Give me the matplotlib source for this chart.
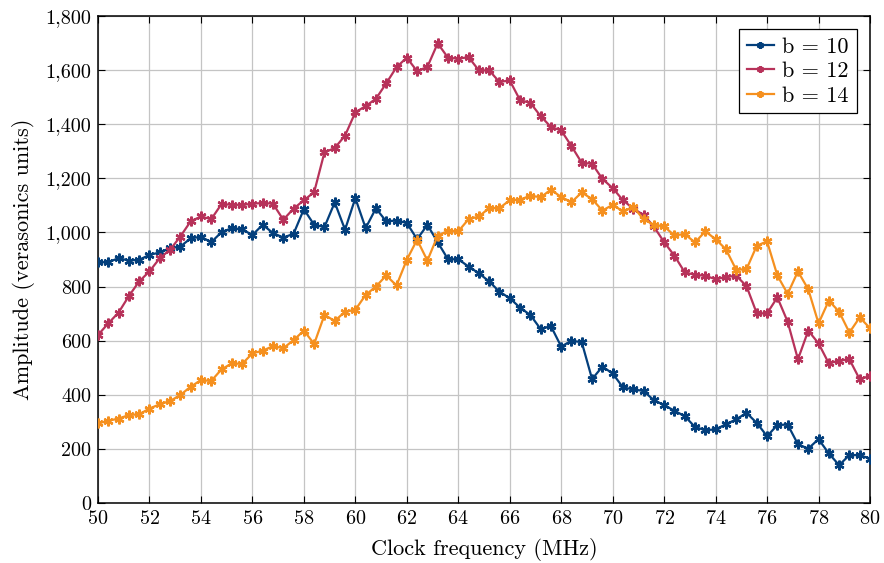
import numpy as np
import matplotlib
matplotlib.use("Agg")
import matplotlib.pyplot as plt
from matplotlib.ticker import FuncFormatter, MultipleLocator

plt.rcParams["font.family"] = ["cmr10", "DejaVu Serif"]
plt.rcParams["mathtext.fontset"] = "cm"
plt.rcParams["axes.formatter.use_mathtext"] = True

# Clock frequency sweep: 50 to 80 MHz in 0.4 MHz steps
freq = np.round(np.arange(50.0, 80.0001, 0.4), 1)

amp_b10 = [890, 890, 905, 896, 899, 917, 926, 942, 948, 978,
           984, 964, 1001, 1016, 1011, 991, 1028, 998, 981, 995,
           1086, 1028, 1020, 1111, 1010, 1127, 1016, 1089, 1041, 1044,
           1035, 975, 1028, 964, 901, 901, 874, 849, 819, 781,
           757, 722, 695, 643, 654, 578, 600, 594, 458, 504,
           479, 427, 420, 414, 380, 362, 341, 321, 281, 269,
           272, 291, 309, 333, 296, 247, 288, 290, 217, 201,
           236, 183, 140, 177, 177, 164]

amp_b12 = [621, 664, 704, 765, 819, 856, 905, 936, 985, 1041,
           1059, 1049, 1105, 1102, 1102, 1106, 1109, 1106, 1047, 1088,
           1119, 1149, 1296, 1312, 1358, 1444, 1467, 1494, 1551, 1611,
           1646, 1596, 1612, 1699, 1646, 1642, 1648, 1599, 1599, 1556,
           1562, 1489, 1479, 1430, 1390, 1377, 1319, 1257, 1254, 1198,
           1164, 1119, 1088, 1065, 1022, 964, 914, 853, 843, 840,
           827, 835, 840, 802, 701, 701, 760, 670, 531, 637,
           590, 516, 526, 531, 457, 470]

amp_b14 = [294, 304, 312, 325, 328, 349, 365, 377, 399, 430,
           454, 451, 494, 516, 514, 553, 563, 580, 572, 602,
           637, 588, 695, 673, 707, 714, 769, 800, 841, 804,
           899, 973, 896, 988, 1006, 1004, 1049, 1059, 1090, 1090,
           1119, 1121, 1136, 1130, 1158, 1131, 1112, 1148, 1123, 1081,
           1102, 1078, 1094, 1049, 1028, 1022, 989, 994, 963, 1004,
           975, 938, 862, 864, 951, 967, 841, 773, 856, 790,
           664, 748, 707, 630, 686, 646]

series = [
    ("b = 10", amp_b10, "#033f7c"),
    ("b = 12", amp_b12, "#b7325a"),
    ("b = 14", amp_b14, "#f5901f"),
]

fig = plt.figure(figsize=(8.84, 5.63), dpi=100)
ax = fig.add_axes([98 / 884, 60 / 563, 772 / 884, 487 / 563])

asterisk = (6, 2, 0)
for label, vals, color in series:
    ax.plot(freq, vals, color=color, lw=1.6, marker=asterisk,
            markersize=7, markeredgewidth=1.7, label=label, zorder=3)

ax.set_xlim(50, 80)
ax.set_ylim(0, 1800)
ax.xaxis.set_major_locator(MultipleLocator(2))
ax.yaxis.set_major_locator(MultipleLocator(200))
ax.yaxis.set_major_formatter(FuncFormatter(lambda v, p: f"{int(v):,}"))

ax.grid(True, color="#c4c4c4", lw=0.9, zorder=0)
ax.set_axisbelow(True)
ax.tick_params(direction="in", length=5, width=0.8, top=True, right=True,
               labelsize=14.5, colors="black", pad=5)
for s in ax.spines.values():
    s.set_linewidth(1.1)

ax.set_xlabel("Clock frequency (MHz)", fontsize=16, labelpad=7)
ax.set_ylabel("Amplitude (verasonics units)", fontsize=16, labelpad=7)

leg = ax.legend(loc="upper right", fontsize=16, frameon=True, fancybox=False,
                edgecolor="black", framealpha=1, borderaxespad=0.6,
                handlelength=1.2, handletextpad=0.4, borderpad=0.35,
                labelspacing=0.22)
leg.get_frame().set_linewidth(0.9)
for h in leg.legend_handles:
    h.set_markersize(5)

fig.savefig("out.png", dpi=100)
